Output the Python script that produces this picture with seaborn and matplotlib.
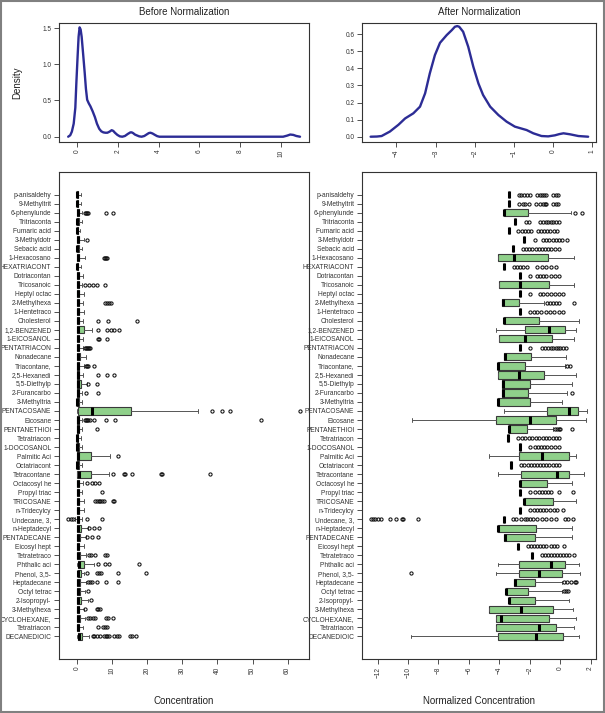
import matplotlib
matplotlib.use("Agg")
import matplotlib.pyplot as plt
import seaborn as sns
import numpy as np
import pandas as pd
from matplotlib.patches import Rectangle

# ---------------- data ----------------
categories = ["p-anisaldehy", "9-Methyltrit", "6-phenylunde", "Tritriaconta", "Fumaric acid",
              "3-Methyldotr", "Sebacic acid", "1-Hexacosano", "HEXATRIACONT", "Dotriacontan",
              "Tricosanoic", "Heptyl octac", "2-Methylhexa", "1-Hentetraco", "Cholesterol",
              "1,2-BENZENED", "1-EICOSANOL", "PENTATRIACON", "Nonadecane", "Triacontane,",
              "2,5-Hexanedi", "5,5-Diethylp", "2-Furancarbo", "3-Methyltria", "PENTACOSANE",
              "Eicosane", "PENTANETHIOl", "Tetratriacon", "1-DOCOSANOL", "Palmitic Aci",
              "Octatriacont", "Tetracontane", "Octacosyl he", "Propyl triac", "TRICOSANE",
              "n-Tridecylcy", "Undecane, 3,", "n-Heptadecyl", "PENTADECANE", "Eicosyl hept",
              "Tetratetraco", "Phthalic aci", "Phenol, 3,5-", "Heptadecane", "Octyl tetrac",
              "2-Isopropyl-", "3-Methylhexa", "CYCLOHEXANE,", "Tetratriacon", "DECANEDIOIC"]

# density curves
before_x = [-0.43, -0.33, -0.25, -0.16, -0.08, -0.03, 0.03, 0.08, 0.13, 0.18, 0.23, 0.30, 0.38, 0.44,
            0.50, 0.58, 0.66, 0.77, 0.88, 0.98, 1.09, 1.19, 1.29, 1.39, 1.49, 1.60, 1.70, 1.78, 1.86,
            1.98, 2.10, 2.22, 2.35, 2.50, 2.62, 2.68, 2.75, 2.84, 2.92, 3.05, 3.17, 3.30, 3.41, 3.52,
            3.60, 3.70, 3.82, 3.93, 4.04, 5.0, 6.0, 7.0, 8.0, 9.0, 10.1, 10.3, 10.45, 10.6, 10.75, 10.93]
before_y = [0.0, 0.02, 0.07, 0.18, 0.40, 0.74, 1.10, 1.38, 1.51, 1.48, 1.38, 1.15, 0.88, 0.66,
            0.51, 0.46, 0.42, 0.35, 0.27, 0.18, 0.11, 0.075, 0.06, 0.055, 0.055, 0.07, 0.09, 0.08, 0.055,
            0.025, 0.005, 0.0, 0.01, 0.04, 0.06, 0.06, 0.05, 0.03, 0.02, 0.005, 0.0, 0.01, 0.03, 0.05,
            0.055, 0.045, 0.025, 0.008, 0.0, 0.0, 0.0, 0.0, 0.0, 0.0, 0.0, 0.015, 0.03, 0.025, 0.01, 0.0]

after_x = [-4.66, -4.5, -4.38, -4.17, -3.95, -3.78, -3.57, -3.4, -3.27, -3.15, -3.02, -2.89, -2.72,
           -2.59, -2.51, -2.45, -2.4, -2.3, -2.17, -2.04, -1.91, -1.79, -1.61, -1.4, -1.19, -0.98,
           -0.8, -0.68, -0.51, -0.3, -0.13, 0.04, 0.15, 0.26, 0.43, 0.64, 0.89]
after_y = [0.0, 0.001, 0.004, 0.03, 0.07, 0.107, 0.137, 0.176, 0.254, 0.371, 0.478, 0.55, 0.595,
           0.624, 0.644, 0.648, 0.644, 0.615, 0.527, 0.41, 0.312, 0.244, 0.176, 0.127, 0.088, 0.059,
           0.047, 0.039, 0.02, 0.004, 0.002, 0.008, 0.015, 0.02, 0.014, 0.004, 0.0]

# boxplot summaries, before normalization
before_lo = [0, 0, 0, 0, 0, 0, 0, 0, 0, 0, 0, 0, 0, 0, 0, 0, 0, 0, 0, 0, 0, 0, 0, 0, 0,
             0, 0, 0, 0, 0, 0, 0, 0, 0, 0, 0, -0.5, 0, 0, 0, 0, 0, 0, 0, 0, 0, 0, 0, 0, 0]
before_q1 = [0, 0, 0, 0, 0, 0, 0, 0, 0, 0, 0, 0, 0, 0, 0, 0.05, 0, 0, 0, 0, 0, 0, 0, 0, 0.1,
             0, 0, 0, 0, 0, 0, 0, 0, 0, 0, 0, 0, 0, 0, 0, 0, 0.3, 0.1, 0, 0, 0, 0, 0, 0, 0.1]
before_med = [0.05, 0.05, 0.1, 0.05, 0.05, 0.1, 0.05, 0.1, 0.05, 0.1, 0.1, 0.1, 0.1, 0.1, 0.1,
              0.2, 0.1, 0.1, 0.1, 0.1, 0.1, 0.1, 0.1, 0.05, 4.3, 0.1, 0.1, 0.05, 0.05, 0.2,
              0.05, 0.6, 0.1, 0.1, 0.1, 0.1, 0.1, 0.1, 0.1, 0.1, 0.1, 0.5, 0.3, 0.1, 0.1,
              0.1, 0.1, 0.1, 0.1, 0.5]
before_q3 = [0.3, 0.3, 0.5, 0.4, 0.3, 0.6, 0.4, 0.6, 0.3, 0.5, 0.5, 0.6, 0.5, 0.6, 0.5,
             1.9, 0.5, 0.5, 0.7, 0.6, 0.5, 1.0, 0.5, 0.4, 15.3, 0.5, 0.5, 0.3, 0.4, 3.9,
             0.4, 3.8, 0.5, 0.4, 0.6, 0.5, 0.4, 1.0, 0.8, 0.5, 0.8, 1.9, 1.2, 0.8, 0.8,
             1.0, 0.5, 0.8, 0.5, 1.5]
before_hi = [1.1, 1.0, 1.5, 1.5, 0.9, 1.8, 1.5, 2.1, 1.0, 1.6, 1.5, 1.9, 1.6, 1.9, 1.6,
             4.1, 1.6, 1.6, 2.4, 1.8, 1.6, 2.8, 1.5, 1.4, 34.5, 1.4, 1.5, 1.0, 1.4, 9.4,
             1.4, 9.1, 1.6, 1.5, 2.0, 1.8, 1.5, 3.0, 2.5, 1.8, 2.4, 4.8, 2.0, 2.4, 2.3,
             3.0, 1.8, 2.2, 1.6, 3.4]
before_out = [[], [], [2.3, 2.6, 2.9, 3.1, 8.2, 10.3], [], [], [2.9], [], [7.7, 8.0, 8.3, 8.6], [], [],
              [2.3, 3.4, 4.5, 5.5, 8.0], [], [8.0, 8.6, 9.0, 9.5], [], [6.0, 8.9, 17.0],
              [6.0, 8.6, 9.5, 10.5, 11.9], [6.0, 6.3, 8.4], [2.2, 2.5, 2.8, 3.1, 3.4, 3.6], [],
              [2.5, 2.8, 3.1, 4.9], [5.8, 8.6, 10.6], [3.1, 5.7], [2.5, 5.8], [],
              [38.5, 41.4, 43.6, 63.5], [2.2, 2.5, 2.8, 3.2, 3.6, 4.8, 8.2, 10.8, 52.3], [5.7], [], [],
              [11.5], [], [10.3, 13.2, 13.5, 15.6, 24.0, 24.3, 38.0], [2.9, 4.1, 5.1, 6.1], [7.1],
              [5.1, 5.6, 6.1, 6.6, 7.1, 7.7, 10.1, 10.4], [], [-2.6, -1.9, -1.1, 2.7, 7.0],
              [3.4, 4.8, 6.1], [2.8, 4.1, 6.0], [], [3.4, 3.8, 5.1, 8.0, 8.6], [6.0, 8.0, 9.2, 17.5],
              [2.7, 5.7, 6.2, 6.7, 11.6, 19.6], [3.0, 3.6, 4.2, 5.5, 8.2, 11.6], [3.2], [3.8],
              [2.2, 5.7, 6.0, 6.5], [3.0, 3.6, 4.4, 5.1, 8.2, 8.9, 10.3], [6.0, 7.4, 7.9, 8.6],
              [4.4, 4.9, 5.6, 6.6, 7.6, 8.1, 8.6, 9.1, 10.6, 11.4, 12.0, 15.0, 15.6, 16.9]]

# boxplot summaries, after normalization
after_lo = [-3.39, -3.39, -3.72, -2.95, -3.39, -2.36, -3.1, -4.09, -3.72, -2.67,
            -4.0, -2.67, -3.83, -2.67, -3.72, -4.22, -4.0, -2.67, -3.67, -4.09,
            -4.09, -3.8, -3.8, -4.09, -3.72, -9.77, -3.39, -3.43, -2.67, -4.7,
            -3.23, -4.09, -2.67, -2.67, -2.4, -2.67, -3.72, -4.11, -3.67, -2.8,
            -1.86, -4.09, -4.22, -3.02, -3.58, -3.39, -4.7, -4.22, -4.22, -9.8]
after_q1 = [-3.39, -3.39, -3.72, -2.95, -3.39, -2.36, -3.1, -4.09, -3.72, -2.67,
            -4.0, -2.67, -3.83, -2.67, -3.72, -2.3, -4.0, -2.67, -3.67, -4.09,
            -4.09, -3.8, -3.8, -4.09, -0.83, -4.22, -3.39, -3.43, -2.67, -2.73,
            -3.23, -2.56, -2.67, -2.67, -2.4, -2.67, -3.72, -4.11, -3.67, -2.8,
            -1.86, -2.69, -2.69, -3.02, -3.58, -3.39, -4.7, -4.22, -4.22, -4.09]
after_med = [-3.39, -3.39, -3.70, -2.95, -3.39, -2.36, -3.1, -3.02, -3.72, -2.67,
             -2.67, -2.67, -3.78, -2.67, -3.70, -0.70, -2.34, -2.67, -3.65, -4.07,
             -2.73, -3.78, -3.78, -4.07, 0.61, -2.01, -3.35, -3.43, -2.67, -1.16,
             -3.23, -0.22, -2.65, -2.67, -2.38, -2.67, -3.72, -4.09, -3.62, -2.8,
             -1.86, -0.61, -1.4, -3.0, -3.56, -3.37, -2.56, -3.89, -1.42, -1.6]
after_q3 = [-3.39, -3.39, -2.08, -2.95, -3.39, -2.36, -3.1, -0.77, -3.72, -2.67,
            -0.70, -2.67, -2.69, -2.67, -1.36, 0.33, -0.55, -2.67, -1.92, -2.34,
            -1.09, -1.97, -2.12, -1.97, 1.2, -0.28, -2.19, -3.43, -2.67, 0.59,
            -3.23, 0.59, -0.83, -2.67, -0.5, -2.67, -3.72, -1.57, -1.64, -2.8,
            -1.86, 0.33, 0.11, -1.68, -2.12, -1.68, -0.5, -0.7, -0.28, 0.22]
after_hi = [-3.39, -3.39, 0.70, -2.95, -3.39, -2.36, -3.1, 0.92, -3.72, -2.67,
            0.92, -2.67, -1.05, -2.67, 1.22, 1.05, 0.92, -2.67, 0.37, 0.3,
            1.03, 0.77, 0.44, 0.15, 1.79, 1.68, -0.44, -3.43, -2.67, 1.05,
            -3.23, 1.57, 0.81, -2.67, 1.03, -2.67, -3.72, 0.81, 0.81, -2.8,
            -1.86, 1.22, 1.31, 0.11, 0.11, 0.61, 0.83, 1.05, 0.92, 1.22]
after_out = [[-2.73, -2.55, -2.4, -2.2, -2.0, -1.5, -1.35, -1.2, -1.05, -0.9, -0.45, -0.3, -0.15],
             [-2.73, -2.45, -2.3, -2.05, -1.6, -1.3, -1.15, -1.0, -0.9, -0.45, -0.3, -0.15],
             [0.95, 1.45],
             [-2.25, -2.03, -1.3, -1.1, -0.95, -0.8, -0.6, -0.45, -0.25, -0.1],
             [-2.75, -2.5, -2.3, -2.1, -1.9, -1.45, -1.25, -1.05, -0.85, -0.65, -0.4, -0.2],
             [-1.64, -1.1, -0.9, -0.7, -0.5, -0.3, -0.1, 0.15, 0.44],
             [-2.45, -2.25, -2.05, -1.85, -1.6, -1.4, -1.2, -1.0, -0.8, -0.6, -0.35, -0.1],
             [],
             [-3.05, -2.85, -2.65, -2.45, -2.2, -1.5, -1.2, -0.9, -0.6, -0.25],
             [-1.97, -1.5, -1.3, -1.1, -0.9, -0.6, -0.35, -0.1],
             [],
             [-1.97, -1.3, -1.1, -0.85, -0.6, -0.35, -0.1, 0.2],
             [-0.85, -0.65, -0.45, -0.25, -0.1, 0.92],
             [-2.0, -1.75, -1.5, -1.25, -0.95, -0.65, -0.4, -0.1, 0.2],
             [], [], [],
             [-1.97, -1.2, -1.0, -0.8, -0.6, -0.45, -0.3, -0.15, 0.0, 0.2, 0.4],
             [], [0.45, 0.66], [], [], [0.77], [], [], [],
             [-0.33, -0.2, -0.1, 0.0, 0.77],
             [-2.75, -2.5, -2.3, -2.05, -1.85, -1.6, -1.4, -1.15, -0.95, -0.75, -0.5, -0.3, -0.1],
             [-1.97, -1.65, -1.45, -1.25, -1.05, -0.85, -0.6, -0.35, -0.1],
             [],
             [-2.55, -2.4, -2.1, -1.9, -1.7, -1.5, -1.3, -1.1, -0.9, -0.7, -0.5, -0.3, -0.1],
             [], [],
             [-1.97, -1.65, -1.4, -1.2, -1.0, -0.8, -0.6, -0.1, 0.88],
             [],
             [-1.97, -1.75, -1.5, -1.3, -1.1, -0.9, -0.65, -0.4, -0.2, 0.2],
             [-12.46, -12.3, -12.15, -12.0, -11.8, -11.2, -10.8, -10.4, -10.35, -9.33,
              -3.1, -2.9, -2.6, -2.3, -2.2, -2.0, -1.8, -1.5, -1.2, -0.9, -0.6, -0.3, 0.3, 0.5, 0.87],
             [], [],
             [-2.1, -1.9, -1.7, -1.5, -1.3, -1.1, -0.9, -0.6, -0.4, -0.2, 0.25],
             [-1.2, -1.0, -0.8, -0.6, -0.4, -0.2, 0.0, 0.2, 0.4, 0.6, 0.9],
             [], [-9.8],
             [0.25, 0.45, 0.7, 0.95, 1.05],
             [0.25, 0.4, 0.55],
             [], [], [], [], []]

# ---------------- style ----------------
sns.set_theme(style="ticks")
plt.rcParams['font.family'] = ['Liberation Sans', 'DejaVu Sans']

GREEN = "#8fd08a"
BLUE = "#2c2c95"
SPINE = "#333333"

fig = plt.figure(figsize=(6.05, 7.13), dpi=100)
W, H = 605.0, 713.0


def axes_px(x0, y0, x1, y1):
    return fig.add_axes([x0 / W, 1 - y1 / H, (x1 - x0) / W, (y1 - y0) / H])


ax_tl = axes_px(59, 23, 309, 142)
ax_tr = axes_px(362, 23, 596, 142)
ax_bl = axes_px(59, 172, 309, 659)
ax_br = axes_px(362, 172, 596, 659)


def style(ax):
    ax.set_facecolor("white")
    for s in ax.spines.values():
        s.set_visible(True)
        s.set_color(SPINE)
        s.set_linewidth(0.8)
    ax.tick_params(axis="both", length=3.5, width=0.6, color=SPINE, labelcolor="#333333",
                   labelsize=4.7, pad=2)
    ax.tick_params(axis="x", labelrotation=90)
    ax.grid(False)


# density plots
sns.lineplot(x=before_x, y=before_y, ax=ax_tl, color=BLUE, lw=1.7, sort=False, estimator=None)
sns.lineplot(x=after_x, y=after_y, ax=ax_tr, color=BLUE, lw=1.7, sort=False, estimator=None)
ax_tl.set_xlim(-0.88, 11.37)
ax_tl.set_ylim(-0.073, 1.57)
ax_tl.set_xticks([0, 2, 4, 6, 8, 10])
ax_tl.set_yticks([0.0, 0.5, 1.0, 1.5])
ax_tl.set_yticklabels(["0.0", "0.5", "1.0", "1.5"])
ax_tr.set_xlim(-4.88, 1.09)
ax_tr.set_ylim(-0.031, 0.666)
ax_tr.set_xticks([-4, -3, -2, -1, 0, 1])
ax_tr.set_yticks([0.0, 0.1, 0.2, 0.3, 0.4, 0.5, 0.6])
ax_tr.set_yticklabels(["0.0", "0.1", "0.2", "0.3", "0.4", "0.5", "0.6"])
for ax in (ax_tl, ax_tr):
    style(ax)
    ax.set_xlabel("")
    ax.set_ylabel("")
ax_tl.set_title("Before Normalization", fontsize=7, pad=6, color="#222222")
ax_tr.set_title("After Normalization", fontsize=7, pad=6, color="#222222")


def make_stats(lo, q1, med, q3, hi, out):
    return [dict(whislo=a, q1=b, med=c, q3=d, whishi=e, fliers=np.array(f, dtype=float))
            for a, b, c, d, e, f in zip(lo, q1, med, q3, hi, out)]


def draw_box(ax, stats):
    ax.bxp(stats, positions=list(range(len(stats))), orientation="horizontal", widths=0.8,
           patch_artist=True, showfliers=True, capwidths=0.4,
           boxprops=dict(facecolor=GREEN, edgecolor="#3a3a3a", linewidth=0.8),
           medianprops=dict(color="black", linewidth=2.2, solid_capstyle="butt"),
           whiskerprops=dict(color="#555555", linewidth=0.7),
           capprops=dict(color="#555555", linewidth=0.7),
           flierprops=dict(marker="o", markerfacecolor="none", markeredgecolor="#111111",
                           markersize=2.3, markeredgewidth=0.75))
    ax.set_ylim(51.5, -2.5)
    ax.set_yticks(list(range(len(categories))))
    ax.set_yticklabels(categories)


draw_box(ax_bl, make_stats(before_lo, before_q1, before_med, before_q3, before_hi, before_out))
draw_box(ax_br, make_stats(after_lo, after_q1, after_med, after_q3, after_hi, after_out))
ax_bl.set_xlim(-5.2, 66.1)
ax_bl.set_xticks([0, 10, 20, 30, 40, 50, 60])
ax_br.set_xlim(-13.03, 2.36)
ax_br.set_xticks([-12, -10, -8, -6, -4, -2, 0, 2])
for ax in (ax_bl, ax_br):
    style(ax)
    ax.tick_params(axis="y", labelsize=4.8)

# axis labels
fig.text(17 / W, 1 - 82.5 / H, "Density", rotation=90, ha="center", va="center", fontsize=7,
         color="#222222")
fig.text(184 / W, 1 - 701 / H, "Concentration", ha="center", va="center", fontsize=7,
         color="#222222")
fig.text(479 / W, 1 - 701 / H, "Normalized Concentration", ha="center", va="center", fontsize=7,
         color="#222222")

# outer frame
fig.patches.append(Rectangle((0.001, 0.001), 0.997, 0.997, transform=fig.transFigure,
                             fill=False, edgecolor="#808080", linewidth=1.5))

fig.savefig("out.png", dpi=100)
